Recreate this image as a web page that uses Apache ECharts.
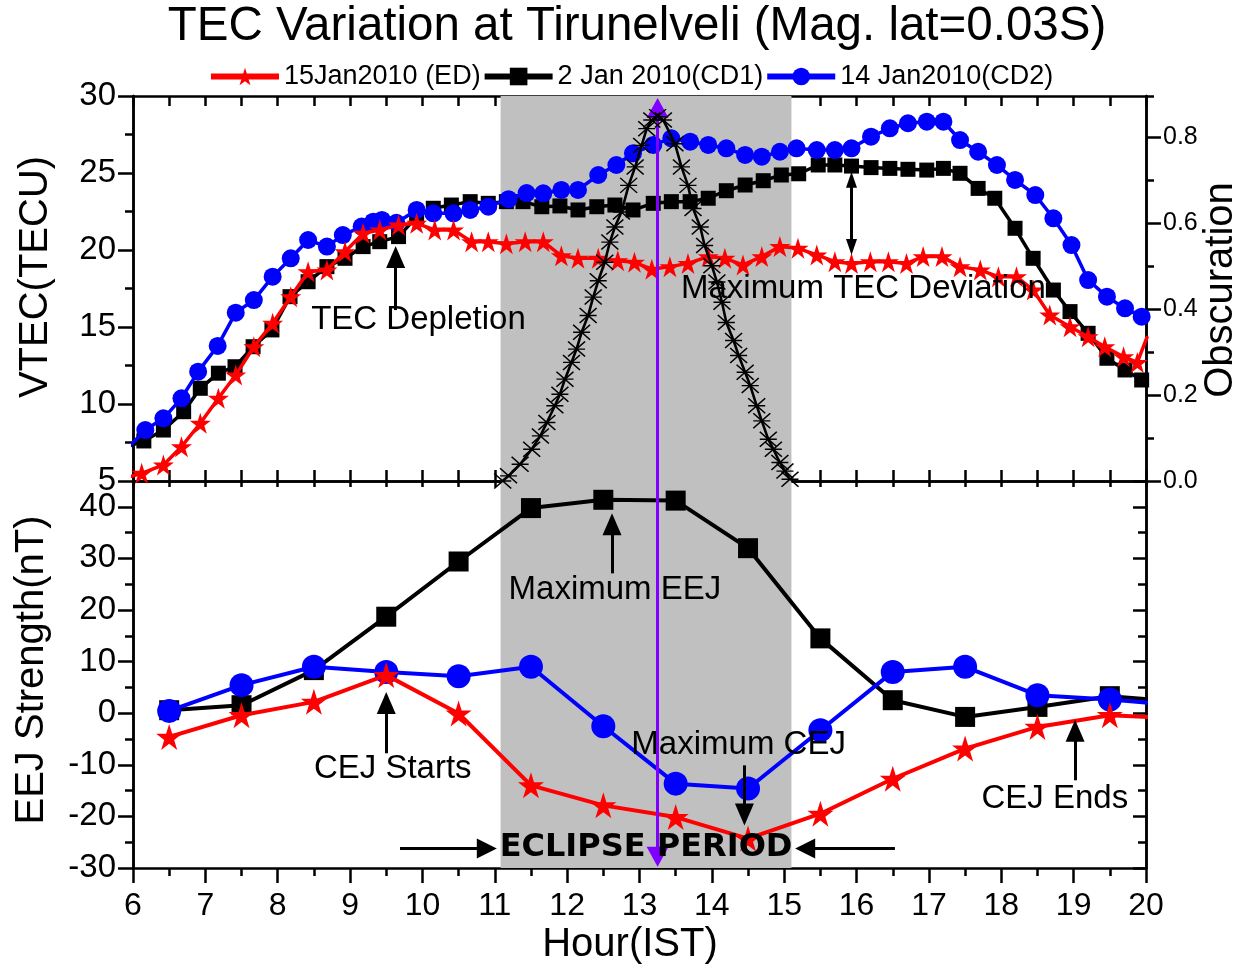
<!DOCTYPE html>
<html><head><meta charset="utf-8">
<script src="https://cdn.jsdelivr.net/npm/echarts@6/dist/echarts.min.js"></script>
<style>html,body{margin:0;padding:0;background:#fff}#c{width:1256px;height:970px}</style>
</head><body><div id="c"></div><script>
// ---------- DATA ----------
const seriesNames = ['15Jan2010 (ED)', '2 Jan 2010(CD1)', '14 Jan2010(CD2)'];
const xTicks = [6,7,8,9,10,11,12,13,14,15,16,17,18,19,20];
// Top panel: VTEC (TECU) vs hour
const tecED = [[5.9,5.2],[6.12,5.5],[6.42,6.04],[6.67,7.23],[6.93,8.75],[7.18,10.37],[7.42,11.88],[7.67,13.72],[7.93,15.24],[8.18,16.97],[8.42,18.59],[8.68,18.7],[8.93,19.89],[9.18,21.08],[9.41,21.3],[9.67,21.62],[9.92,21.73],[10.17,21.3],[10.43,21.3],[10.68,20.54],[10.91,20.54],[11.16,20.4],[11.42,20.54],[11.67,20.54],[11.92,19.62],[12.15,19.46],[12.43,19.46],[12.7,19.3],[12.93,19.2],[13.17,18.75],[13.42,18.92],[13.67,19.13],[13.95,19.57],[14.18,19.46],[14.43,19.03],[14.69,19.57],[14.94,20.22],[15.19,20.11],[15.45,19.68],[15.7,19.24],[15.93,19.13],[16.19,19.24],[16.44,19.24],[16.69,19.13],[16.92,19.57],[17.18,19.57],[17.43,18.92],[17.71,18.7],[17.96,18.27],[18.21,18.27],[18.44,17.4],[18.67,15.78],[18.95,15.02],[19.2,14.37],[19.43,13.72],[19.69,13.07],[19.88,12.7],[20.02,14.4]];
const tecCD1 = [[5.9,7.2],[6.15,7.6],[6.42,8.31],[6.7,9.5],[6.93,11.02],[7.18,12.0],[7.41,12.42],[7.66,13.72],[7.92,14.81],[8.17,16.97],[8.42,17.94],[8.68,18.92],[8.93,19.46],[9.18,20.22],[9.41,20.54],[9.67,20.87],[9.92,22.16],[10.15,22.71],[10.4,22.92],[10.66,23.14],[10.91,23.03],[11.16,23.14],[11.39,23.14],[11.65,22.81],[11.9,22.86],[12.15,22.6],[12.41,22.81],[12.66,22.92],[12.91,22.6],[13.19,23.03],[13.44,23.14],[13.7,23.14],[13.95,23.36],[14.2,23.85],[14.46,24.22],[14.71,24.5],[14.96,24.87],[15.2,24.95],[15.47,25.52],[15.7,25.52],[15.93,25.45],[16.2,25.35],[16.46,25.3],[16.71,25.24],[16.97,25.19],[17.2,25.3],[17.43,24.98],[17.68,24.0],[17.91,23.36],[18.19,21.41],[18.44,19.46],[18.72,17.4],[18.95,16.0],[19.2,14.59],[19.46,12.97],[19.71,12.21],[19.94,11.56]];
const tecCD2 = [[5.9,7.0],[6.17,8.31],[6.42,9.07],[6.67,10.37],[6.9,12.1],[7.17,13.77],[7.42,15.93],[7.67,16.75],[7.93,18.27],[8.18,19.46],[8.42,20.65],[8.68,20.22],[8.9,20.97],[9.16,21.52],[9.32,21.84],[9.44,21.95],[9.64,21.77],[9.92,22.6],[10.15,22.38],[10.43,22.38],[10.66,22.6],[10.91,22.81],[11.19,23.3],[11.44,23.7],[11.67,23.68],[11.92,23.9],[12.15,23.9],[12.43,24.87],[12.68,25.52],[12.91,26.28],[13.19,26.82],[13.44,27.25],[13.7,27.03],[13.95,26.82],[14.2,26.6],[14.46,26.17],[14.69,26.06],[14.94,26.38],[15.17,26.6],[15.45,26.49],[15.7,26.49],[15.93,26.6],[16.2,27.36],[16.46,27.9],[16.71,28.23],[16.97,28.33],[17.2,28.33],[17.43,27.14],[17.68,26.38],[17.94,25.52],[18.19,24.55],[18.47,23.57],[18.72,22.06],[18.97,20.32],[19.2,18.05],[19.46,16.97],[19.71,16.21],[19.94,15.67]];
// Eclipse obscuration (right axis)
const obscuration = [[11.11,0],[11.19,0.012],[11.35,0.039],[11.51,0.074],[11.63,0.105],[11.72,0.136],[11.83,0.175],[11.9,0.202],[11.97,0.237],[12.06,0.276],[12.13,0.307],[12.2,0.346],[12.29,0.385],[12.36,0.428],[12.43,0.466],[12.52,0.509],[12.59,0.556],[12.66,0.591],[12.75,0.626],[12.85,0.688],[12.94,0.731],[13.03,0.781],[13.1,0.82],[13.17,0.84],[13.25,0.848],[13.33,0.84],[13.49,0.785],[13.58,0.731],[13.67,0.688],[13.74,0.634],[13.84,0.591],[13.9,0.548],[14.0,0.501],[14.07,0.463],[14.14,0.416],[14.2,0.369],[14.3,0.327],[14.37,0.292],[14.46,0.253],[14.53,0.222],[14.62,0.175],[14.69,0.14],[14.78,0.097],[14.85,0.074],[14.94,0.043],[15.01,0.023],[15.08,0.004]];
// Bottom panel: EEJ strength (nT), hourly
const eejHours = [6.5,7.5,8.5,9.5,10.5,11.5,12.5,13.5,14.5,15.5,16.5,17.5,18.5,19.5,20.5];
const eejED  = [-4.6,-0.39,2.2,7.38,-0.06,-13.98,-17.86,-20.13,-24.3,-19.48,-12.7,-6.85,-2.66,-0.39,-1.05];
const eejCD1 = [0.58,1.55,8.35,18.7,29.4,39.75,41.36,41.2,31.98,14.5,2.52,-0.72,1.22,3.3,2.2];
const eejCD2 = [0.45,5.44,8.99,8.0,7.18,8.99,-2.52,-13.65,-14.6,-3.3,8.0,8.99,3.5,2.66,1.5];
const eclipseSpan = [11.08, 15.1];
const maxObsHour = 13.25;

// ---------- CHART ----------
const FONT = 'Liberation Sans';
const STAR = 'path://M50,0L61.2,34.5L97.6,34.5L68.2,55.9L79.4,90.5L50,69.1L20.6,90.5L31.8,55.9L2.4,34.5L38.8,34.5Z';
const AST = 'path://M0,0L20,20M0,20L20,0M0,10L20,10';
const RED = '#ff0000', BLUE = '#0000ff', BLK = '#000000', PURPLE = '#7f00ff';
const pair = (xs, ys) => xs.map((x, i) => [x, ys[i]]);
const lw = 2.5;
const tickStyle = {color: '#000', width: lw};
const axLine = {show: true, onZero: false, lineStyle: {color: '#000', width: lw}};

function xAx(grid, pos, interval, tick, label, minor) {
  return {gridIndex: grid, type: 'value', position: pos, min: 6, max: 20, interval: interval,
    axisLine: axLine, splitLine: {show: false},
    axisTick: Object.assign({show: true, lineStyle: tickStyle}, tick),
    minorTick: minor ? {show: true, splitNumber: 2, length: 8, lineStyle: tickStyle} : {show: false},
    axisLabel: label || {show: false}};
}
function yAx(grid, pos, min, max, interval, tick, label) {
  return {gridIndex: grid, type: 'value', position: pos, min: min, max: max, interval: interval,
    axisLine: axLine, splitLine: {show: false},
    axisTick: Object.assign({show: true, lineStyle: tickStyle}, tick),
    axisLabel: label || {show: false}};
}
const lblBase = {color: '#000', fontFamily: FONT};

const option = {
  animation: false,
  backgroundColor: '#fff',
  grid: [
    {left: 133, width: 1013, top: 96, height: 385, outerBoundsMode: 'none', containLabel: false},
    {left: 133, width: 1013, top: 481, height: 387, outerBoundsMode: 'none', containLabel: false}
  ],
  legend: {
    data: seriesNames, left: 203, top: 58, itemWidth: 68, itemHeight: 22, itemGap: 1,
    lineStyle: {width: 6},
    textStyle: {fontFamily: FONT, fontSize: 27, color: '#000'}, selectedMode: false
  },
  xAxis: [
    xAx(0, 'bottom', 0.5, {inside: true, length: 11}),
    xAx(0, 'top', 0.5, {inside: true, length: 10}),
    xAx(1, 'bottom', 1, {inside: false, length: 15},
      Object.assign({show: true, fontSize: 32, margin: 22, showMinLabel: true, showMaxLabel: true}, lblBase), true),
    xAx(1, 'top', 0.5, {inside: true, length: 6})
  ],
  yAxis: [
    yAx(0, 'left', 5, 30, 5, {inside: false, length: 15},
      Object.assign({show: true, fontSize: 33, margin: 17, showMinLabel: true, showMaxLabel: true}, lblBase)),
    yAx(0, 'left', 5, 30, 2.5, {inside: false, length: 8}),
    yAx(0, 'right', 0, 0.896, 0.2, {inside: false, length: 15},
      Object.assign({show: true, fontSize: 25, margin: 17, showMinLabel: true, showMaxLabel: false,
        formatter: v => v.toFixed(1)}, lblBase)),
    yAx(0, 'right', 0, 0.896, 0.1, {inside: false, length: 8}),
    yAx(1, 'left', -30, 45, 10, {inside: false, length: 15},
      Object.assign({show: true, fontSize: 33, margin: 17, showMinLabel: true, showMaxLabel: false}, lblBase)),
    yAx(1, 'left', -30, 45, 5, {inside: false, length: 8}),
    yAx(1, 'right', -30, 45, 10, {inside: true, length: 13}),
    yAx(1, 'right', -30, 45, 5, {inside: true, length: 8})
  ],
  graphic: [
    {type: 'text', x: 637, y: 27, z: 100, style: {text: 'TEC Variation at Tirunelveli (Mag. lat=0.03S)', fontFamily: FONT, fontSize: 47.5, fill: '#000', align: 'center', verticalAlign: 'middle'}},
    {type: 'text', x: 36, y: 277, rotation: Math.PI / 2, style: {text: 'VTEC(TECU)', fontFamily: FONT, fontSize: 40, fill: '#000', align: 'center', verticalAlign: 'middle'}},
    {type: 'text', x: 32, y: 670, rotation: Math.PI / 2, style: {text: 'EEJ Strength(nT)', fontFamily: FONT, fontSize: 40, fill: '#000', align: 'center', verticalAlign: 'middle'}},
    {type: 'text', x: 1221, y: 290, rotation: Math.PI / 2, style: {text: 'Obscuration', fontFamily: FONT, fontSize: 40, fill: '#000', align: 'center', verticalAlign: 'middle'}},
    {type: 'text', x: 630, y: 945, style: {text: 'Hour(IST)', fontFamily: FONT, fontSize: 40, fill: '#000', align: 'center', verticalAlign: 'middle'}}
  ],
  series: []
};

const shade = (xi, yi) => ({
  type: 'line', xAxisIndex: xi, yAxisIndex: yi, data: [], z: -1, silent: true,
  markArea: {silent: true, itemStyle: {color: '#c0c0c0', opacity: 1},
    data: [[{xAxis: eclipseSpan[0]}, {xAxis: eclipseSpan[1]}]]}
});
option.series.push(shade(0, 0), shade(2, 4));

function textPts(items) {
  return {
    silent: true, symbol: 'circle', symbolSize: 1, itemStyle: {color: 'rgba(0,0,0,0)'},
    label: {show: true, position: 'inside', formatter: '{b}', color: '#000', fontFamily: FONT, fontSize: 33},
    data: items
  };
}
const arrowLine = {type: 'solid', color: '#000', width: 3};

// top annotations (under data)
option.series.push({
  type: 'line', xAxisIndex: 0, yAxisIndex: 0, data: [], z: 1, silent: true,
  markPoint: textPts([
    {name: 'TEC Depletion', coord: [9.945, 15.45]},
    {name: 'Maximum TEC Deviation', coord: [13.573, 17.5], label: {align: 'left'}}
  ]),
  markLine: {silent: true, symbol: ['none', 'triangle'], symbolSize: [19, 22], lineStyle: arrowLine,
    label: {show: false}, emphasis: {disabled: true},
    data: [
      [{coord: [9.63, 16.1]}, {coord: [9.63, 19.55]}],
      [{coord: [15.93, 20.2], symbol: 'triangle', symbolSize: [11, 16]}, {coord: [15.93, 24.56], symbol: 'triangle', symbolSize: [11, 16]}]
    ]}
});

// TEC series
option.series.push(
  {name: seriesNames[1], type: 'line', xAxisIndex: 0, yAxisIndex: 0, data: tecCD1, z: 2,
   symbol: 'rect', symbolSize: 15, lineStyle: {color: BLK, width: 3.5}, itemStyle: {color: BLK}},
  {name: seriesNames[2], type: 'line', xAxisIndex: 0, yAxisIndex: 0, data: tecCD2, z: 3,
   symbol: 'circle', symbolSize: 18, lineStyle: {color: BLUE, width: 3.5}, itemStyle: {color: BLUE}},
  {name: seriesNames[0], type: 'line', xAxisIndex: 0, yAxisIndex: 0, data: tecED, z: 4,
   symbol: STAR, symbolSize: 21, lineStyle: {color: RED, width: 3.5}, itemStyle: {color: RED}},
  {name: 'Obscuration', type: 'line', xAxisIndex: 0, yAxisIndex: 2, data: obscuration, z: 5,
   symbol: AST, symbolSize: [17, 15], lineStyle: {color: BLK, width: 2.6},
   itemStyle: {color: 'rgba(0,0,0,0)', borderColor: BLK, borderWidth: 1.5}}
);

// EEJ series
option.series.push(
  {name: seriesNames[1], type: 'line', xAxisIndex: 2, yAxisIndex: 4, data: pair(eejHours, eejCD1), z: 2,
   symbol: 'rect', symbolSize: 20, lineStyle: {color: BLK, width: 4}, itemStyle: {color: BLK}},
  {name: seriesNames[2], type: 'line', xAxisIndex: 2, yAxisIndex: 4, data: pair(eejHours, eejCD2), z: 3,
   symbol: 'circle', symbolSize: 24, lineStyle: {color: BLUE, width: 4}, itemStyle: {color: BLUE}},
  {name: seriesNames[0], type: 'line', xAxisIndex: 2, yAxisIndex: 4, data: pair(eejHours, eejED), z: 4,
   symbol: STAR, symbolSize: 26, lineStyle: {color: RED, width: 4}, itemStyle: {color: RED}}
);

// bottom annotations
option.series.push({
  type: 'line', xAxisIndex: 2, yAxisIndex: 4, data: [], z: 6, silent: true,
  markPoint: textPts([
    {name: 'Maximum EEJ', coord: [12.66, 23.8]},
    {name: 'CEJ Starts', coord: [9.59, -10.78]},
    {name: 'Maximum CEJ', coord: [14.37, -6.2]},
    {name: 'CEJ Ends', coord: [18.74, -16.6]},
    {name: 'ECLIPSE PERIOD', coord: [13.09, -26.1], label: {fontFamily: 'DejaVu Sans', fontWeight: 'bold', fontSize: 32}}
  ]),
  markLine: {silent: true, symbol: ['none', 'triangle'], symbolSize: [19, 22], lineStyle: arrowLine,
    label: {show: false}, emphasis: {disabled: true},
    data: [
      [{coord: [12.62, 27.1]}, {coord: [12.62, 36.64]}],
      [{coord: [9.5, -7.77]}, {coord: [9.5, 2.0]}],
      [{coord: [14.45, -10.1]}, {coord: [14.45, -19.61]}],
      [{coord: [19.02, -13.0]}, {coord: [19.02, -3.4]}],
      [{coord: [9.69, -26.2]}, {coord: [10.89, -26.2], symbolSize: [20, 20]}],
      [{coord: [16.53, -26.2]}, {coord: [15.29, -26.2], symbolSize: [20, 20]}]
    ]}
});

// purple maximum-obscuration marker across both panels
const purple = (xi, yi, from, to) => ({
  type: 'line', xAxisIndex: xi, yAxisIndex: yi, data: [], z: 10, silent: true,
  markLine: {silent: true, symbol: ['none', 'triangle'], symbolSize: [22, 20],
    lineStyle: {type: 'solid', color: PURPLE, width: 3}, itemStyle: {color: PURPLE},
    label: {show: false}, emphasis: {disabled: true},
    data: [[{coord: [maxObsHour, from]}, {coord: [maxObsHour, to]}]]}
});
option.series.push(purple(0, 0, 5, 29.22), purple(2, 4, 45, -27.8));

const chart = echarts.init(document.getElementById('c'), null, {renderer: 'canvas'});
chart.setOption(option);
</script></body></html>
